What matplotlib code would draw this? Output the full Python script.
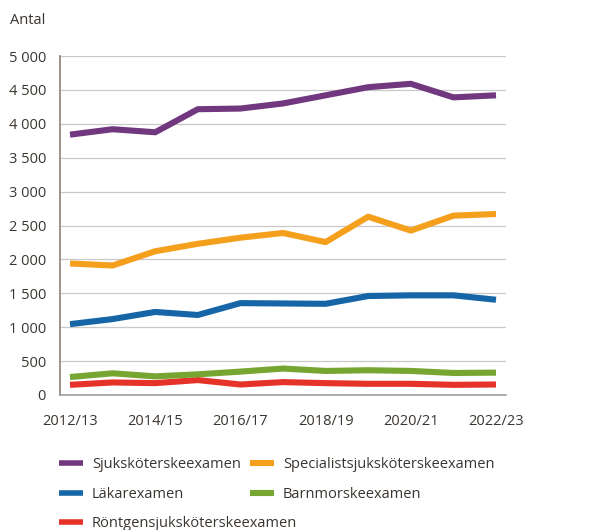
import matplotlib
matplotlib.use("Agg")
import matplotlib.pyplot as plt
from matplotlib.ticker import FuncFormatter, MultipleLocator

plt.rcParams['font.family'] = ['Open Sans', 'DejaVu Sans']

years = ["2012/13", "2013/14", "2014/15", "2015/16", "2016/17", "2017/18",
         "2018/19", "2019/20", "2020/21", "2021/22", "2022/23"]

sjukskoterska = [3840, 3920, 3875, 4215, 4225, 4300, 4420, 4540, 4590, 4390, 4420]
specialist = [1940, 1910, 2120, 2230, 2320, 2390, 2255, 2630, 2425, 2645, 2670]
lakare = [1045, 1120, 1225, 1180, 1355, 1350, 1345, 1460, 1470, 1470, 1405]
barnmorska = [265, 320, 275, 305, 345, 390, 355, 365, 355, 325, 330]
rontgen = [150, 185, 175, 220, 155, 190, 175, 165, 165, 150, 155]

series = [
    ("Sjuksköterskeexamen", sjukskoterska, "#71387f"),
    ("Läkarexamen", lakare, "#1565a7"),
    ("Röntgensjuksköterskeexamen", rontgen, "#e63329"),
    ("Specialistsjuksköterskeexamen", specialist, "#f5a01d"),
    ("Barnmorskeexamen", barnmorska, "#76a531"),
]
# ritordning: de lägre linjerna först
draw_order = [2, 4, 1, 3, 0]

fig = plt.figure(figsize=(6.13, 5.30), dpi=100)
ax = fig.add_axes([60 / 613, 1 - 395 / 530, 446 / 613, 339 / 530])

x = list(range(len(years)))
lines = {}
for i in draw_order:
    name, vals, col = series[i]
    lines[i], = ax.plot(x, vals, color=col, lw=4.4, solid_capstyle="butt",
                        label=name, zorder=3)

ax.set_ylim(0, 5000)
ax.set_xlim(-0.235, 10.235)
ax.yaxis.set_major_locator(MultipleLocator(500))
ax.yaxis.set_major_formatter(FuncFormatter(lambda v, p: f"{int(v):,}".replace(",", " ")))
ax.set_xticks(x[::2])
ax.set_xticklabels(years[::2])

ax.grid(axis="y", color="#c9c9c9", lw=0.9, zorder=0)
for s in ["top", "right"]:
    ax.spines[s].set_visible(False)
ax.spines["left"].set_color("#8c827d")
ax.spines["left"].set_linewidth(1.2)
ax.spines["bottom"].set_color("#a39d99")
ax.spines["bottom"].set_linewidth(1.2)
ax.tick_params(length=0, labelsize=10.5, colors="#3a3530")
ax.tick_params(axis="y", pad=10)
ax.tick_params(axis="x", pad=14)

fig.text(10 / 613, 1 - 21 / 530, "Antal", fontsize=10.5, color="#3a3530", va="center")

# två legendkolumner, placerade var för sig
leg_kw = dict(loc="upper left", frameon=False, fontsize=10.5, handlelength=1.65,
              handletextpad=0.6, labelspacing=1.0, labelcolor="#3a3530")
col1 = [0, 1, 2]
col2 = [3, 4]
leg1 = fig.legend([lines[i] for i in col1], [series[i][0] for i in col1],
                  bbox_to_anchor=(46 / 613, 1 - 444 / 530), **leg_kw)
fig.legend([lines[i] for i in col2], [series[i][0] for i in col2],
           bbox_to_anchor=(237 / 613, 1 - 444 / 530), **leg_kw)
for l in leg1.get_lines():
    l.set_linewidth(4)

fig.savefig("out.png", dpi=100)
